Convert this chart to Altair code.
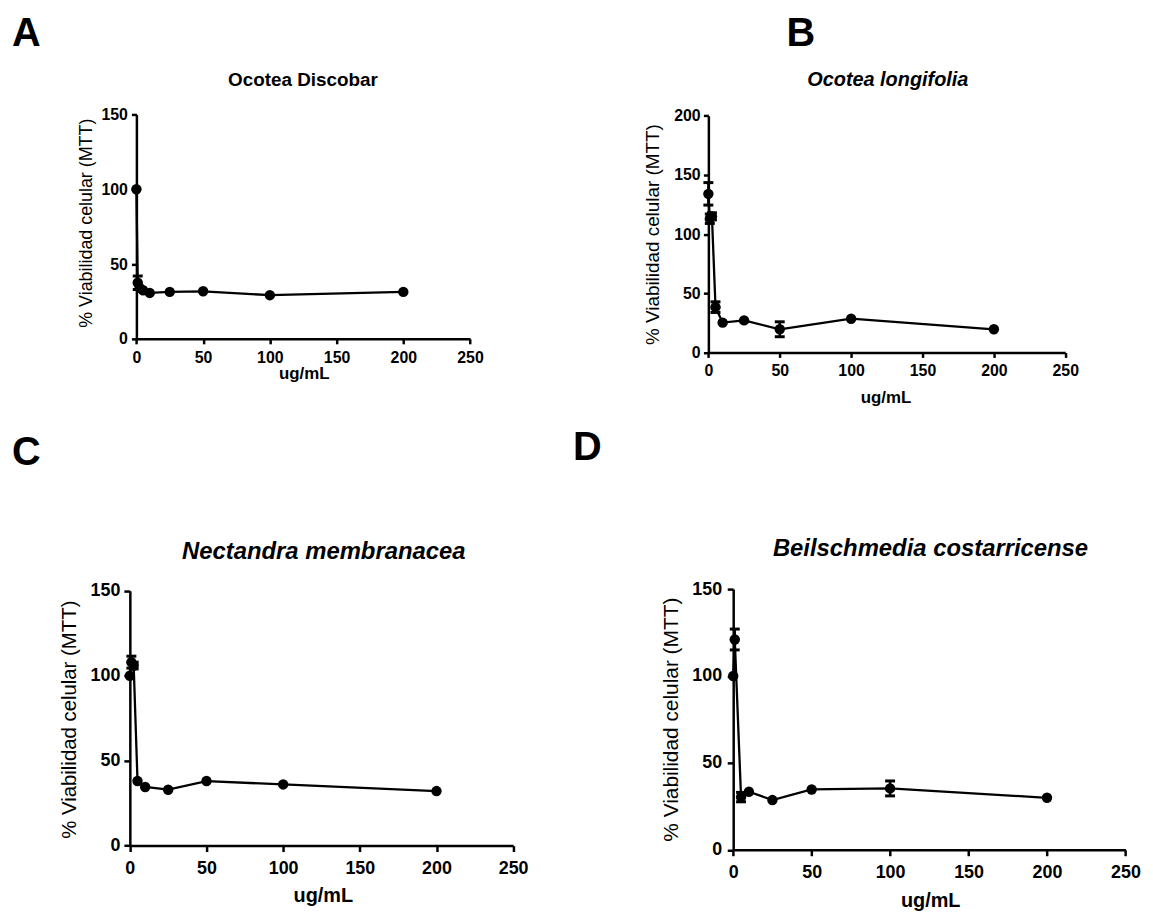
import altair as alt
import pandas as pd

# ---- data ----
conc_A = [0, 1, 2.5, 5, 10, 25, 50, 100, 200]
mean_A = [100, 37.5, 34, 32.5, 30.7, 31.4, 31.8, 29.2, 31.4]
sem_A = [0, 4.5, 0, 0, 0, 0, 0, 0, 0]

conc_B = [0, 1, 2.5, 5, 10, 25, 50, 100, 200]
mean_B = [134, 113, 115, 38.3, 25.2, 27.1, 19.6, 28.5, 19.6]
sem_B = [9.5, 4, 3, 4.5, 0, 0, 6.3, 0, 0]

conc_C = [0, 1, 2.5, 5, 10, 25, 50, 100, 200]
mean_C = [100, 108, 106, 38, 34.5, 32.9, 38, 36, 32.1]
sem_C = [0, 3.5, 2, 0, 0, 0, 0, 0, 0]

conc_D = [0, 1, 5, 10, 25, 50, 100, 200]
mean_D = [100, 121, 30.3, 33.4, 28.6, 34.7, 35.3, 29.9]
sem_D = [0, 6, 2.7, 0, 0, 0, 4.3, 0]

x_ticks = [0, 50, 100, 150, 200, 250]
y_ticks_150 = [0, 50, 100, 150]
y_ticks_200 = [0, 50, 100, 150, 200]

titles = ["Ocotea Discobar", "Ocotea longifolia", "Nectandra membranacea", "Beilschmedia costarricense"]
letters = ["A", "B", "C", "D"]
x_title = "ug/mL"
y_title = "% Viabilidad celular (MTT)"

W, H = 1145, 906
FONT = "Liberation Sans"


def panel(conc, mean, sem, ydom, yticks, xr, yr, tick, ylp, xlp, lsize,
          ytx, yty, ysize, xtx, xty, xsize):
    df = pd.DataFrame({"x": conc, "y": mean, "sem": sem})
    df["lo"] = df["y"] - df["sem"]
    df["hi"] = df["y"] + df["sem"]
    common = dict(domainColor="black", domainWidth=2.5, tickColor="black", tickWidth=2.5,
                  tickSize=tick, grid=False, labelFont=FONT, labelFontWeight="bold",
                  labelColor="black", labelFontSize=lsize, titleFont=FONT,
                  titleColor="black")
    xaxis = alt.Axis(orient="bottom", offset=yr[0] - H, values=x_ticks, labelPadding=xlp,
                     title=x_title, titleFontWeight="bold", titleFontSize=xsize,
                     titleX=xtx, titleY=xty, titleBaseline="alphabetic", titleAlign="center",
                     labelFlush=False, labelOverlap=False, **common)
    yaxis = alt.Axis(orient="left", offset=-xr[0], values=yticks, labelPadding=ylp,
                     title=y_title, titleFontWeight="normal", titleFontSize=ysize,
                     titleX=ytx, titleY=yty, titleAngle=270, titleBaseline="middle",
                     titleAlign="center", labelFlush=False, labelOverlap=False, **common)
    xs = alt.Scale(domain=[0, 250], range=xr, nice=False, zero=False)
    ys = alt.Scale(domain=ydom, range=yr, nice=False, zero=False)
    xe = alt.X("x:Q", scale=xs, axis=xaxis)
    base = alt.Chart(df)
    line = base.mark_line(color="black", strokeWidth=2.3).encode(
        x=xe, y=alt.Y("y:Q", scale=ys, axis=yaxis))
    err = base.transform_filter("datum.sem > 0").mark_rule(color="black", strokeWidth=2.5).encode(
        x=xe, y=alt.Y("lo:Q", scale=ys, axis=yaxis), y2="hi:Q")
    caps = base.transform_filter("datum.sem > 0").transform_fold(
        ["lo", "hi"], as_=["k", "v"]).mark_tick(
        orient="horizontal", color="black", size=10, thickness=3, opacity=1).encode(
        x=xe, y=alt.Y("v:Q", scale=ys, axis=yaxis))
    pts = base.mark_circle(color="black", size=110, opacity=1).encode(
        x=xe, y=alt.Y("y:Q", scale=ys, axis=yaxis))
    return alt.layer(line, err, caps, pts)


pA = panel(conc_A, mean_A, sem_A, [0, 150], y_ticks_150, [129.3, 465.3], [330, 104],
           5, 4, 5.8, 16, -50.3, 213, 18, 297.8, 40.3, 17)
pB = panel(conc_B, mean_B, sem_B, [0, 200], y_ticks_200, [705.3, 1064.7], [343.7, 105.3],
           5, 3.3, 5.4, 16, -56.3, 224.5, 19, 883.7, 50.3, 17)
pC = panel(conc_C, mean_C, sem_C, [0, 150], y_ticks_150, [122.7, 508.7], [840.3, 583.7],
           6, 4, 7.7, 18, -60.5, 713, 20.5, 317, 56.7, 20)
pD = panel(conc_D, mean_D, sem_D, [0, 150], y_ticks_150, [730.3, 1125.3], [844.5, 582],
           6, 5.6, 8.3, 18, -61.8, 713, 21, 928.7, 56.8, 20)


def label(text, x, y, size, align="center", italic=False):
    return alt.Chart(pd.DataFrame({"t": [text]})).mark_text(
        font=FONT, fontWeight="bold", fontStyle="italic" if italic else "normal",
        fontSize=size, align=align, baseline="alphabetic", color="black").encode(
        text="t:N", x=alt.value(x), y=alt.value(y))


texts = [
    label(letters[0], 4, 35, 40, "left"),
    label(letters[1], 784, 35, 40, "left"),
    label(letters[2], 4, 457, 40, "left"),
    label(letters[3], 569, 452, 40, "left"),
    label(titles[0], 297, 75, 19),
    label(titles[1], 886, 75, 20, italic=True),
    label(titles[2], 318, 552, 24, italic=True),
    label(titles[3], 929, 549, 24, italic=True),
]

chart = alt.layer(pA, pB, pC, pD, *texts).resolve_scale(
    x="independent", y="independent").properties(
    width=W, height=H, padding=0,
    autosize=alt.AutoSizeParams(type="none")).configure_view(strokeWidth=0)

chart.save("out.html", embed_options={"renderer": "svg", "actions": False})
